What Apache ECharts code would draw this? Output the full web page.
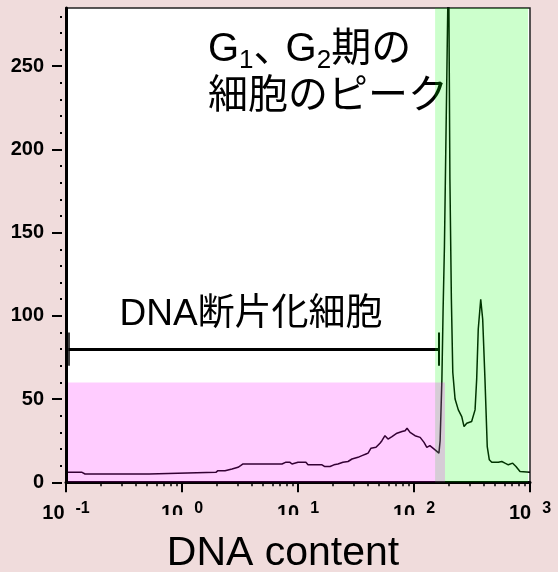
<!DOCTYPE html>
<html>
<head>
<meta charset="utf-8">
<script src="https://cdn.jsdelivr.net/npm/echarts@6/dist/echarts.min.js"></script>
<style>
  html, body { margin: 0; padding: 0; background: #f0dcdc; }
  #chart { width: 558px; height: 572px; }
</style>
</head>
<body>
<div id="chart"></div>
<script>
// Flow-cytometry DNA histogram: cell count against DNA content (log scale)
const dnaContent = [
  0.104, 0.1375, 0.146, 0.52, 0.53, 1.96, 2.04, 2.35, 2.4, 2.7, 2.76, 3.04, 3.2, 3.36,
  7.28, 7.8, 8.53, 8.88, 9.06, 10.0, 10.4, 10.8, 11.7, 12.2, 16.1, 16.9, 18.9, 20.4,
  22.1, 24.4, 27.0, 29.2, 32.9, 35.6, 38.6, 40.2, 42.6, 47.0, 50.9, 52.9, 56.2, 59.7,
  64.6, 71.3, 78.8, 83.8, 87.1, 92.5, 102, 113, 122, 129, 137, 152, 164, 168,
  174, 178, 183, 190.6, 198.6, 204, 210, 216, 226, 241, 258, 270, 285, 314,
  324, 336, 347, 358, 376, 391, 409, 428, 446, 468, 533, 571, 609, 650,
  709, 757, 820, 848, 1000
];
const cellCount = [
  6, 6, 5, 5, 6, 6, 7, 7, 8, 8, 9, 9, 10, 11,
  11, 12, 12, 11, 12, 12, 11, 12, 12, 10.5, 10.5, 9.5, 9.5, 10.5,
  11, 12, 12.5, 14, 15, 16, 17, 17.5, 20.5, 21, 23.5, 25, 28, 26,
  27.5, 29.5, 30.5, 31, 32.5, 30, 28, 27, 24, 21, 22, 19.5, 17.5, 25,
  62, 102, 142, 230, 320, 182, 110, 66, 50, 43.5, 39.5, 33.5, 35.5, 36.5,
  37.5, 43.5, 62, 92, 110, 98, 62, 21.5, 13.5, 12, 12, 12.5, 11.5, 10.5,
  11.5, 9.5, 6.5, 6, 6
];

// axis ticks and labels
const xMajorTicks = [0.1, 1, 10, 100, 1000];
const xTickExponents = ['-1', '0', '1', '2', '3'];
const yMajorTicks = [0, 50, 100, 150, 200, 250];
const yMinorTicks = [10, 20, 30, 40, 60, 70, 80, 90, 110, 120, 130, 140, 160, 170, 180, 190,
                     210, 220, 230, 240, 260, 270, 280];
const yMax = 285;

// gated regions and the bracket marking fragmented-DNA cells
const fragmentedRange = [0.103, 185];
const fragmentedTop = 60;
const peakRange = [152, 961];
const bracketX = [0.105, 162];
const bracketY = 80;
const bracketCap = [70, 90];

const fragmentedLabel = 'DNA断片化細胞';
const axisTitle = 'DNA content';

const xMinorTicks = [];
for (let d = 0; d < xMajorTicks.length - 1; d++) {
  for (let k = 2; k <= 9; k++) xMinorTicks.push(+(xMajorTicks[d] * k).toPrecision(3));
}

const FONT = '"Liberation Sans", Arial, "Noto Sans CJK JP", sans-serif';
const BG = '#f0dcdc';

const chart = echarts.init(document.getElementById('chart'), null, { renderer: 'canvas' });

const tickLine = { color: '#000', width: 2 };

chart.setOption({
  animation: false,
  backgroundColor: BG,
  grid: {
    left: 66, top: 8, width: 464, height: 474.3,
    outerBoundsMode: 'none', containLabel: false,
    show: true, backgroundColor: '#ffffff', borderColor: '#222', borderWidth: 1.5
  },
  xAxis: [
    {
      type: 'log', logBase: 10, min: 0.1, max: 1000, position: 'bottom',
      axisLine: { onZero: false, lineStyle: { color: '#000', width: 3 } },
      axisTick: { customValues: xMajorTicks, length: 10, lineStyle: tickLine },
      minorTick: { show: false },
      splitLine: { show: false },
      axisLabel: {
        customValues: xMajorTicks, margin: 18,
        formatter: function (value) {
          let i = 0;
          xMajorTicks.forEach(function (t, j) {
            if (Math.abs(Math.log10(t) - Math.log10(value)) < 1e-6) i = j;
          });
          return '{b|10}{e|' + xTickExponents[i] + '}';
        },
        rich: {
          b: { fontSize: 20, fontWeight: 'bold', lineHeight: 26, fontFamily: FONT, color: '#000' },
          e: { fontSize: 16, fontWeight: 'bold', lineHeight: 14, verticalAlign: 'top',
               padding: [0, 0, 0, 11], fontFamily: FONT, color: '#000' }
        }
      },
      name: axisTitle, nameLocation: 'middle', nameGap: 51,
      nameTextStyle: { fontSize: 41, fontFamily: FONT, color: '#000', padding: [0, 30, 0, 0] }
    },
    {
      type: 'log', logBase: 10, min: 0.1, max: 1000, position: 'bottom',
      axisLine: { show: false, onZero: false },
      axisTick: { customValues: xMinorTicks, length: 4, lineStyle: { color: '#000', width: 1.5 } },
      axisLabel: { show: false },
      splitLine: { show: false }
    }
  ],
  yAxis: [
    {
      type: 'value', min: 0, max: yMax, position: 'left', z: 10,
      axisLine: { show: true, onZero: false, lineStyle: { color: '#000', width: 3 } },
      axisTick: { show: false },
      splitLine: { show: false },
      axisLabel: {
        customValues: yMajorTicks, margin: 22,
        fontSize: 20, fontWeight: 'bold', fontFamily: FONT, color: '#000'
      }
    },
    {
      type: 'value', min: 0, max: yMax, position: 'left', offset: 4,
      axisLine: { show: false, onZero: false },
      axisTick: { customValues: yMajorTicks, length: 10, lineStyle: tickLine },
      axisLabel: { show: false },
      splitLine: { show: false }
    },
    {
      type: 'value', min: 0, max: yMax, position: 'left', offset: 4,
      axisLine: { show: false, onZero: false },
      axisTick: { customValues: yMinorTicks, length: 2, lineStyle: tickLine },
      axisLabel: { show: false },
      splitLine: { show: false }
    }
  ],
  series: [
    {
      type: 'line', xAxisIndex: 0, yAxisIndex: 0, z: 2,
      data: dnaContent.map(function (x, i) { return [x, cellCount[i]]; }),
      showSymbol: false, smooth: false, clip: true,
      lineStyle: { color: '#000', width: 1.5 },
      silent: true,
      markLine: {
        z: 2, silent: true, symbol: ['none', 'none'], label: { show: false },
        data: [
          [{ coord: [bracketX[0], bracketY], lineStyle: { color: '#000', width: 3, type: 'solid' } },
           { coord: [bracketX[1], bracketY] }],
          [{ coord: [bracketX[0], bracketCap[0]], lineStyle: { color: '#000', width: 1.5, type: 'solid' } },
           { coord: [bracketX[0], bracketCap[1]] }],
          [{ coord: [bracketX[1], bracketCap[0]], lineStyle: { color: '#000', width: 2, type: 'solid' } },
           { coord: [bracketX[1], bracketCap[1]] }]
        ]
      },
      markArea: {
        z: 3, silent: true,
        data: [
          [{ xAxis: peakRange[0], itemStyle: { color: 'rgba(0,255,0,0.2)' } },
           { xAxis: peakRange[1] }],
          [{ xAxis: fragmentedRange[0], yAxis: 0, itemStyle: { color: 'rgba(255,0,255,0.2)' } },
           { xAxis: fragmentedRange[1], yAxis: fragmentedTop }]
        ]
      }
    }
  ],
  graphic: [
    {
      type: 'text', z: 1, left: 208, top: 30, silent: true,
      style: {
        text: '{t|G}{s|1}{c|、}{t|G}{s|2}{t|期の}\n{t|細胞のピーク}',
        fill: '#000',
        rich: {
          t: { fontSize: 40, lineHeight: 47, fontFamily: FONT, fill: '#000' },
          s: { fontSize: 26, lineHeight: 26, verticalAlign: 'bottom', fontFamily: FONT, fill: '#000' },
          c: { fontSize: 40, lineHeight: 47, width: 32, fontFamily: FONT, fill: '#000' }
        }
      }
    },
    {
      type: 'text', z: 1, x: 251, y: 315, silent: true,
      style: {
        text: fragmentedLabel, fill: '#000',
        font: '37px ' + FONT, align: 'center', verticalAlign: 'middle'
      }
    },
    {
      // the lower edge of the inner decade labels is cut off by the page band
      type: 'rect', z: 100, silent: true,
      shape: { x: 150, y: 515, width: 275, height: 10 },
      style: { fill: BG }
    }
  ]
});
</script>
</body>
</html>
